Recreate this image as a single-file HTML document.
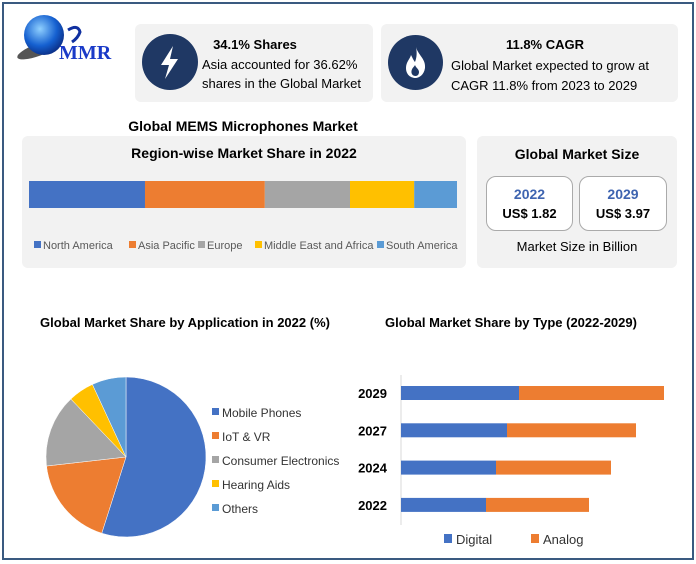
<!DOCTYPE html>
<html><head><meta charset="utf-8"><style>
body{margin:0;width:696px;height:564px;background:#fff;font-family:"Liberation Sans",sans-serif;position:relative;overflow:hidden}
.abs{position:absolute}
.card{position:absolute;background:#f2f2f2;border-radius:6px}
.b{font-weight:bold}
.c{text-align:center}
</style></head><body>
<div class="abs" style="left:2px;top:2px;width:688px;height:554px;border:2px solid #3a5a80"></div>

<svg class="abs" style="left:8px;top:12px" width="110" height="55">
<defs><radialGradient id="g" cx="0.4" cy="0.35" r="0.7"><stop offset="0" stop-color="#8fd0ff"/><stop offset="0.6" stop-color="#1560d0"/><stop offset="1" stop-color="#0a2a80"/></radialGradient></defs>
<ellipse cx="30" cy="38" rx="22" ry="6" fill="#555" transform="rotate(-20 30 38)"/>
<circle cx="36" cy="23" r="20" fill="url(#g)"/>
<path d="M60 18 q10 -6 12 2 q-2 6 -8 10" stroke="#1030a0" stroke-width="3" fill="none"/>
<text x="51" y="47" font-family="Liberation Serif,serif" font-weight="bold" font-size="20" fill="#1a3ac8">MMR</text>
</svg>

<div class="card" style="left:135px;top:24px;width:238px;height:78px"></div>
<svg class="abs" style="left:142px;top:34px" width="56" height="56">
<circle cx="28" cy="28" r="28" fill="#1f3864"/>
<path d="M31 12 L19 31 L27 31 L23 45 L36 25 L28 25 Z" fill="#fff"/>
</svg>
<div class="abs b c" style="left:200px;top:37px;width:110px;font-size:13px">34.1% Shares</div>
<div class="abs" style="left:202px;top:55px;width:170px;font-size:13px;line-height:19px">Asia accounted for 36.62% shares in the Global Market</div>

<div class="card" style="left:381px;top:24px;width:297px;height:78px"></div>
<svg class="abs" style="left:388px;top:35px" width="55" height="55">
<circle cx="27.5" cy="27.5" r="27.5" fill="#1f3864"/>
<path d="M28 12 C30 20 38 24 37 33 C36 40 31 43 27.5 43 C23 43 18 40 18 33 C18 27 22 24 23 20 C25 24 26 26 27 27 C29 22 29 17 28 12 Z" fill="#fff"/>
<path d="M27.5 41 C25 41 23 39 23.5 36 C24 33 26 32 27 30 C28 33 31 34 31 37 C31 39.5 29.5 41 27.5 41 Z" fill="#1f3864"/>
</svg>
<div class="abs b c" style="left:470px;top:37px;width:150px;font-size:13px">11.8% CAGR</div>
<div class="abs" style="left:451px;top:56px;width:225px;font-size:13px;line-height:20px">Global Market expected to grow at CAGR 11.8% from 2023 to 2029</div>

<div class="abs b c" style="left:100px;top:118px;width:286px;font-size:14px">Global MEMS Microphones Market</div>

<div class="card" style="left:22px;top:136px;width:444px;height:132px"></div>
<div class="abs b c" style="left:22px;top:145px;width:444px;font-size:14px">Region-wise Market Share in 2022</div>
<svg class="abs" style="left:22px;top:136px" width="444" height="132" id="reg"></svg>

<div class="card" style="left:477px;top:136px;width:200px;height:132px"></div>
<div class="abs b c" style="left:477px;top:146px;width:200px;font-size:14px">Global Market Size</div>
<div class="abs c" style="left:486px;top:176px;width:85px;height:53px;border:1px solid #aaa;border-radius:10px;background:#fff">
<div class="b" style="color:#3e64b0;font-size:14px;margin-top:9px">2022</div><div class="b" style="font-size:13px;margin-top:4px">US$ 1.82</div></div>
<div class="abs c" style="left:579px;top:176px;width:86px;height:53px;border:1px solid #aaa;border-radius:10px;background:#fff">
<div class="b" style="color:#3e64b0;font-size:14px;margin-top:9px">2029</div><div class="b" style="font-size:13px;margin-top:4px">US$ 3.97</div></div>
<div class="abs c" style="left:477px;top:239px;width:200px;font-size:13px">Market Size in Billion</div>

<div class="abs b c" style="left:20px;top:315px;width:330px;font-size:13px">Global Market Share by Application in 2022 (%)</div>
<div class="abs b c" style="left:366px;top:315px;width:290px;font-size:13px">Global Market Share by Type (2022-2029)</div>
<svg class="abs" style="left:0;top:330px" width="696" height="230" id="bot"></svg>

<script>
const regions=["North America","Asia Pacific","Europe","Middle East and Africa","South America"];
const regionShares=[27.1,28.0,19.9,15.0,10.0];
const regionColors=["#4472c4","#ed7d31","#a5a5a5","#ffc000","#5b9bd5"];
const apps=["Mobile Phones","IoT & VR","Consumer Electronics","Hearing Aids","Others"];
const appShares=[54.9,18.3,14.7,5.2,6.9];
const years=["2029","2027","2024","2022"];
const digital=[118,106,95,85];
const analog=[145,129,115,103];
const NS="http://www.w3.org/2000/svg";
function mk(p,t,a){const e=document.createElementNS(NS,t);for(const k in a)e.setAttribute(k,a[k]);p.appendChild(e);return e;}
const reg=document.getElementById('reg');
const tot=regionShares.reduce((a,b)=>a+b,0);
const rx=v=>7+v/tot*428;
let acc=0;
regionShares.forEach((v,i)=>{
 const r=mk(reg,'rect',{x:rx(acc),y:45,width:rx(acc+v)-rx(acc),height:27,fill:regionColors[i]});
 
 
 acc+=v;});
const lx=[12,107,176,233,355];
regions.forEach((n,i)=>{
 const g=mk(reg,'g',{});
 
 
 mk(g,'rect',{x:lx[i],y:105,width:7,height:7,fill:regionColors[i]});
 const t=mk(g,'text',{x:lx[i]+9,y:113,'font-size':11,fill:'#595959','font-family':'Liberation Sans,sans-serif'});t.textContent=n;});
const bot=document.getElementById('bot');
const cx=126,cy=127,R=80;
let a0=0;
appShares.forEach((v,i)=>{
 const a1=a0+v/100*2*Math.PI;
 const p=(a)=>[cx+R*Math.sin(a),cy-R*Math.cos(a)];
 const [x0,y0]=p(a0),[x1,y1]=p(a1);
 const s=mk(bot,'path',{d:`M${cx},${cy}L${x0},${y0}A${R},${R} 0 ${a1-a0>Math.PI?1:0} 1 ${x1},${y1}Z`,fill:regionColors[i],stroke:'#fff','stroke-width':0.5});
 
 
 a0=a1;});
apps.forEach((n,i)=>{
 const g=mk(bot,'g',{});
 
 
 const y=87+i*24;
 mk(g,'rect',{x:212,y:y-9,width:7,height:7,fill:regionColors[i]});
 const t=mk(g,'text',{x:222,y:y,'font-size':12,fill:'#333','font-family':'Liberation Sans,sans-serif'});t.textContent=n;});
const bx=v=>401+v;
mk(bot,'line',{x1:401,y1:45,x2:401,y2:195,stroke:'#d9d9d9'});
years.forEach((yr,i)=>{
 const y=56+i*37.3;
 const d=mk(bot,'rect',{x:bx(0),y:y,width:bx(digital[i])-bx(0),height:14,fill:'#4472c4'});
 
 
 const a=mk(bot,'rect',{x:bx(digital[i]),y:y,width:bx(digital[i]+analog[i])-bx(digital[i]),height:14,fill:'#ed7d31'});
 
 
 const t=mk(bot,'text',{x:387,y:y+12,'text-anchor':'end','font-size':13,'font-weight':'bold','font-family':'Liberation Sans,sans-serif'});t.textContent=yr;
 
 });
[["Digital","#4472c4",444],["Analog","#ed7d31",531]].forEach(([n,c,x])=>{
 const g=mk(bot,'g',{});
 
 
 mk(g,'rect',{x:x,y:204,width:8,height:9,fill:c});
 const t=mk(g,'text',{x:x+12,y:214,'font-size':13,fill:'#333','font-family':'Liberation Sans,sans-serif'});t.textContent=n;});
</script>
</body></html>
